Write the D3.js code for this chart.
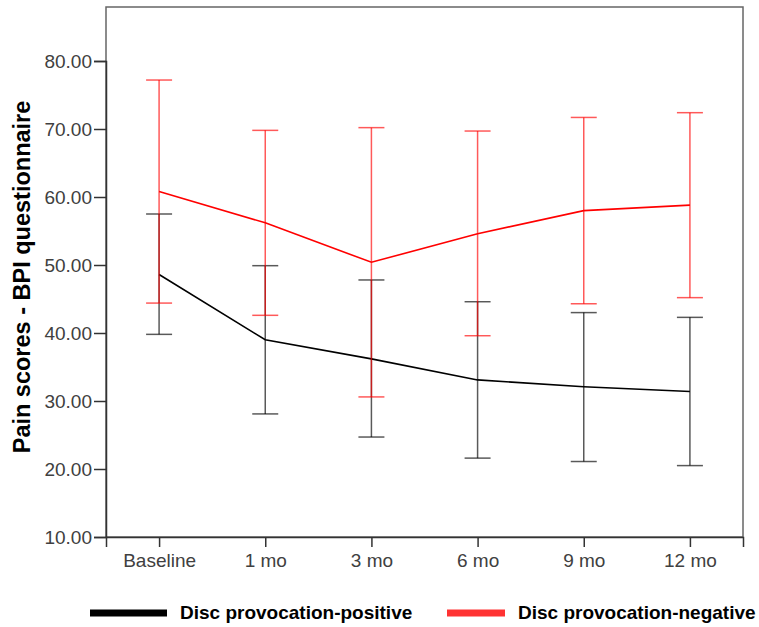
<!DOCTYPE html>
<html>
<head>
<meta charset="utf-8">
<script src="https://cdn.jsdelivr.net/npm/d3@7"></script>
<style>
  html, body { margin: 0; padding: 0; background: #fff; }
  svg { display: block; }
</style>
</head>
<body>
<svg id="chart" width="759" height="627"></svg>
<script>
const categories = ["Baseline", "1 mo", "3 mo", "6 mo", "9 mo", "12 mo"];
const yTicks = [10, 20, 30, 40, 50, 60, 70, 80];

const positiveMean  = [48.6, 39.0, 36.2, 33.1, 32.1, 31.4];
const positiveUpper = [57.5, 49.9, 47.8, 44.6, 43.0, 42.3];
const positiveLower = [39.8, 28.1, 24.7, 21.6, 21.1, 20.5];

const negativeMean  = [60.8, 56.2, 50.4, 54.6, 58.0, 58.8];
const negativeUpper = [77.2, 69.8, 70.2, 69.7, 71.7, 72.4];
const negativeLower = [44.4, 42.6, 30.6, 39.6, 44.3, 45.2];

const seriesNames = ["Disc provocation-positive", "Disc provocation-negative"];
const seriesColors = ["#000000", "#ff0000"];
const legendColors = ["#000000", "#ff3333"];

(function () {
const series = [
  { name: seriesNames[0], color: seriesColors[0], mean: positiveMean, upper: positiveUpper, lower: positiveLower },
  { name: seriesNames[1], color: seriesColors[1], mean: negativeMean, upper: negativeUpper, lower: negativeLower }
];

const svg = d3.select("#chart");
const pLeft = 106, pRight = 743, pTop = 7, pBottom = 537;

const x = d3.scalePoint().domain(categories).range([pLeft, pRight]).padding(0.5);
const y = d3.scaleLinear().domain([10, 80]).range([pBottom, 61]);

const font = "'Liberation Sans', Arial, sans-serif";

// Frame
svg.append("rect")
  .attr("x", pLeft).attr("y", pTop)
  .attr("width", pRight - pLeft).attr("height", pBottom - pTop)
  .attr("fill", "none").attr("stroke", "#666").attr("stroke-width", 1.5);

// Y axis
const yAxis = d3.axisLeft(y).tickValues(yTicks).tickFormat(d3.format(".2f")).tickSize(12).tickPadding(2);
const gy = svg.append("g").attr("transform", `translate(${pLeft},0)`).call(yAxis);
gy.select(".domain").attr("stroke", "#333").attr("stroke-width", 1.5);
gy.selectAll(".tick line").attr("stroke", "#333").attr("stroke-width", 1.5);
gy.selectAll(".tick text").attr("font-family", font).attr("font-size", 19).attr("fill", "#404040");

// X axis
const xAxis = d3.axisBottom(x).tickSize(10).tickPadding(7);
const gx = svg.append("g").attr("transform", `translate(0,${pBottom})`).call(xAxis);
gx.select(".domain").attr("stroke", "#333").attr("stroke-width", 1.5);
gx.selectAll(".tick line").attr("stroke", "#333").attr("stroke-width", 1.5);
gx.selectAll(".tick text").attr("font-family", font).attr("font-size", 19).attr("fill", "#404040");

// Y axis title
svg.append("text")
  .attr("transform", `translate(30,${(pTop + pBottom) / 2 + 5}) rotate(-90)`)
  .attr("text-anchor", "middle")
  .attr("font-family", font).attr("font-size", 23.5).attr("font-weight", "bold")
  .attr("fill", "#000")
  .text("Pain scores - BPI questionnaire");

const capHalf = 13;

series.forEach(s => {
  const g = svg.append("g");
  const eb = g.append("g").attr("stroke", s.color).attr("stroke-width", 1.5).attr("stroke-opacity", 0.65).attr("fill", "none");
  categories.forEach((c, i) => {
    const cx = x(c);
    eb.append("line").attr("x1", cx).attr("x2", cx).attr("y1", y(s.upper[i])).attr("y2", y(s.lower[i]));
    eb.append("line").attr("x1", cx - capHalf).attr("x2", cx + capHalf).attr("y1", y(s.upper[i])).attr("y2", y(s.upper[i]));
    eb.append("line").attr("x1", cx - capHalf).attr("x2", cx + capHalf).attr("y1", y(s.lower[i])).attr("y2", y(s.lower[i]));
  });
  const line = d3.line().x((d, i) => x(categories[i])).y(d => y(d));
  g.append("path").datum(s.mean).attr("d", line)
    .attr("fill", "none").attr("stroke", s.color).attr("stroke-width", 1.6);
});

// Legend
const legendItems = [
  { name: seriesNames[0], color: legendColors[0], x1: 90, x2: 167, tx: 180 },
  { name: seriesNames[1], color: legendColors[1], x1: 447, x2: 505, tx: 518 }
];
legendItems.forEach(l => {
  svg.append("line").attr("x1", l.x1).attr("x2", l.x2).attr("y1", 613).attr("y2", 613)
    .attr("stroke", l.color).attr("stroke-width", 7);
  svg.append("text").attr("x", l.tx).attr("y", 619)
    .attr("font-family", font).attr("font-size", 19).attr("font-weight", "bold").attr("fill", "#000")
    .text(l.name);
});
})();
</script>
</body>
</html>
